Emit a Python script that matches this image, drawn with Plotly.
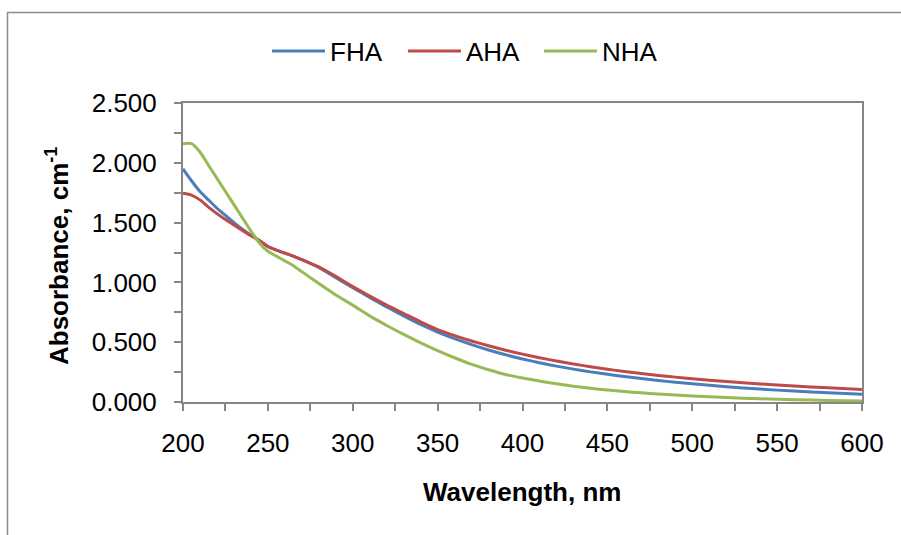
import plotly.graph_objects as go

wavelength = [200, 205, 210, 215, 220, 225, 230, 235, 240, 245, 250, 255, 260, 265, 270, 275, 280,
              290, 300, 310, 320, 330, 340, 350, 360, 370, 380, 390, 400, 410, 420, 430, 440, 450,
              460, 470, 480, 490, 500, 520, 540, 560, 580, 600]

fha = [1.95, 1.85, 1.76, 1.69, 1.62, 1.56, 1.50, 1.445, 1.395, 1.35, 1.30, 1.27, 1.245, 1.22, 1.19, 1.16, 1.125,
       1.04, 0.955, 0.875, 0.795, 0.72, 0.648, 0.585, 0.53, 0.48, 0.435, 0.395, 0.36, 0.328, 0.30, 0.275, 0.252, 0.232,
       0.213, 0.196, 0.18, 0.165, 0.152, 0.128, 0.108, 0.091, 0.077, 0.064]

aha = [1.745, 1.73, 1.69, 1.63, 1.575, 1.525, 1.48, 1.435, 1.39, 1.35, 1.30, 1.27, 1.245, 1.22, 1.19, 1.16, 1.13,
       1.05, 0.965, 0.885, 0.81, 0.74, 0.67, 0.605, 0.555, 0.51, 0.47, 0.433, 0.40, 0.37, 0.343, 0.318, 0.295, 0.274,
       0.255, 0.238, 0.222, 0.208, 0.195, 0.171, 0.151, 0.134, 0.119, 0.105]

nha = [2.16, 2.16, 2.09, 1.98, 1.87, 1.76, 1.65, 1.54, 1.43, 1.33, 1.26, 1.22, 1.18, 1.14, 1.09, 1.04, 0.99,
       0.895, 0.81, 0.72, 0.64, 0.565, 0.495, 0.43, 0.37, 0.315, 0.27, 0.23, 0.20, 0.175, 0.152, 0.132, 0.115, 0.10,
       0.088, 0.077, 0.067, 0.058, 0.05, 0.037, 0.027, 0.019, 0.013, 0.008]

series_names = ["FHA", "AHA", "NHA"]
series_values = [fha, aha, nha]
series_colors = ["#4A7EBB", "#BE4B48", "#98B954"]

FONT = "Liberation Sans, Arial, sans-serif"
FS = 26
AXIS_GRAY = "#868686"

fig = go.Figure()
for name, vals, col in zip(series_names, series_values, series_colors):
    fig.add_trace(go.Scatter(x=wavelength, y=vals, name=name, mode="lines",
                             line=dict(color=col, width=3, shape="spline", smoothing=0.6)))

axis_common = dict(
    showline=True, linecolor=AXIS_GRAY, linewidth=2, mirror=True,
    ticks="outside", ticklen=7, tickwidth=2, tickcolor=AXIS_GRAY,
    showgrid=False, zeroline=False,
    tickfont=dict(family=FONT, size=FS, color="black"),
)

fig.update_xaxes(range=[200, 600], tick0=200, dtick=50,
                 minor=dict(dtick=25, ticks="outside", ticklen=7, tickwidth=2, tickcolor=AXIS_GRAY, showgrid=False),
                 ticklabelstandoff=10, **axis_common)
fig.update_yaxes(range=[0, 2.5], tick0=0, dtick=0.5, tickformat=".3f",
                 minor=dict(dtick=0.25, ticks="outside", ticklen=7, tickwidth=2, tickcolor=AXIS_GRAY, showgrid=False),
                 ticklabelstandoff=12, **axis_common)

L, R, T, B = 183, 39, 103, 133
W, H = 901, 535
pw, ph = W - L - R, H - T - B

def px_x(x):
    return (x - L) / pw

def px_y(y):
    return (H - B - y) / ph

fig.update_layout(
    width=W, height=H, autosize=False,
    margin=dict(l=L, r=R, t=T, b=B),
    paper_bgcolor="white", plot_bgcolor="white",
    font=dict(family=FONT, size=FS, color="black"),
    legend=dict(orientation="h", x=px_x(267), y=px_y(51), xanchor="left", yanchor="middle",
                font=dict(family=FONT, size=FS, color="black"), itemwidth=53,
                entrywidth=68, entrywidthmode="pixels",
                bgcolor="rgba(0,0,0,0)"),
    showlegend=True,
    annotations=[
        dict(text="<b>Absorbance, cm<sup>-1</sup></b>", textangle=-90, xref="paper", yref="paper",
             x=px_x(57), y=px_y(256), xanchor="center", yanchor="middle", showarrow=False,
             font=dict(family=FONT, size=FS, color="black")),
        dict(text="<b>Wavelength, nm</b>", xref="paper", yref="paper",
             x=px_x(522), y=px_y(492), xanchor="center", yanchor="middle", showarrow=False,
             font=dict(family=FONT, size=FS, color="black")),
    ],
    shapes=[
        dict(type="path", xref="paper", yref="paper",
             path=f"M {px_x(7.5)},{px_y(560)} L {px_x(7.5)},{px_y(12.5)} L {px_x(930)},{px_y(12.5)}",
             line=dict(color="#8C8C8C", width=1.5), layer="below"),
    ],
)

fig.write_html("out.html")
